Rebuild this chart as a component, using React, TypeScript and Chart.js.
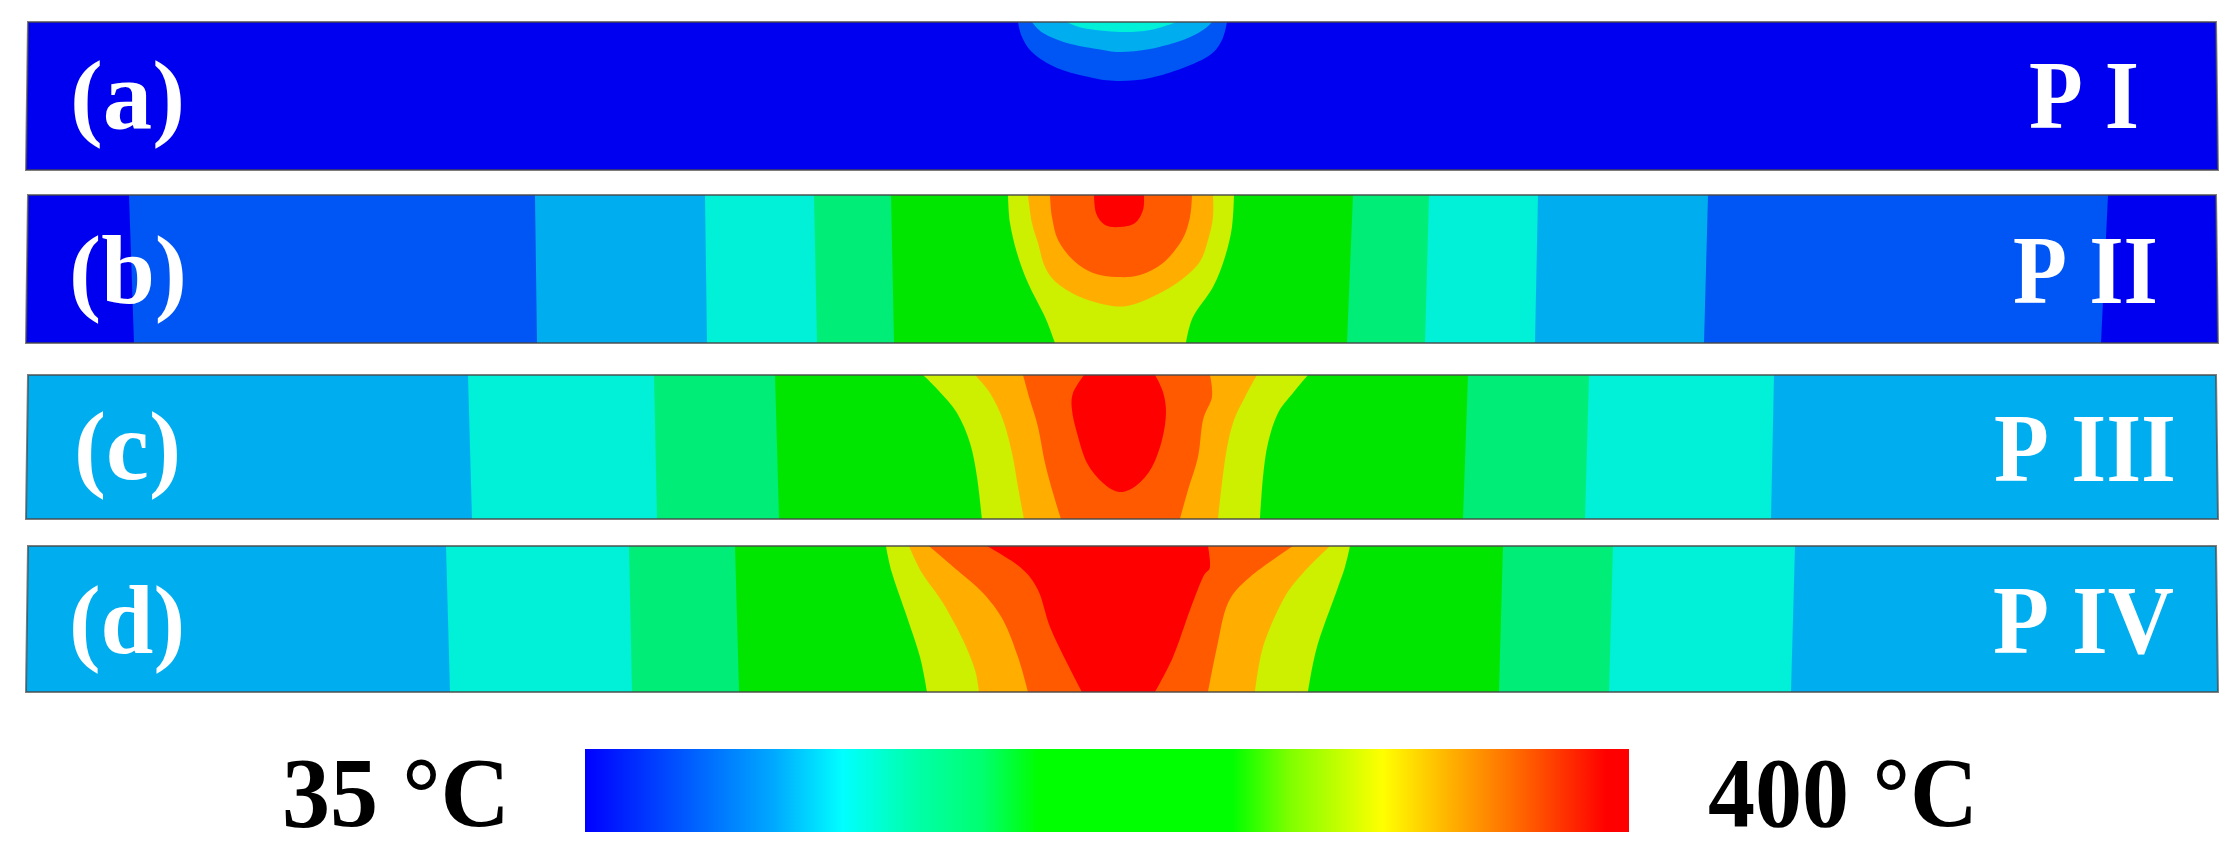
import React, { useEffect, useRef } from "react";
import { Chart, registerables } from "chart.js";

Chart.register(...registerables);

type P = number[];

const BLUE = "#0000f0";
const AZURE = "#0055f5";
const SKY = "#00aef0";
const CYAN = "#00f0d8";
const MINT = "#00ee78";
const GREEN = "#00e600";
const LIME = "#ccf000";
const AMBER = "#ffae00";
const VERMILION = "#ff5a00";
const RED = "#ff0000";

// Panel (a)
const frameA: P[] = [[28, 22], [2216, 22], [2218, 170], [26, 170]];
const aAzure: P[] = [[1018, 22], [1022, 37], [1033, 53], [1057, 68], [1093, 78], [1120, 81], [1150, 78], [1183, 68], [1210, 55], [1222, 40], [1227, 22]];
const aSky: P[] = [[1032, 22], [1043, 33], [1067, 43], [1097, 49], [1120, 52], [1150, 49], [1183, 40], [1203, 30], [1212, 22]];
const aCyan: P[] = [[1067, 22], [1083, 28], [1120, 32], [1150, 30], [1177, 22]];

// Panel (b)
const frameB: P[] = [[28, 195], [2216, 195], [2218, 343], [26, 343]];
const bAzure: P[] = [[129, 195], [134, 343], [2101, 343], [2108, 195]];
const bSky: P[] = [[535, 195], [537, 343], [1704, 343], [1708, 195]];
const bCyan: P[] = [[705, 195], [707, 343], [1535, 343], [1538, 195]];
const bMint: P[] = [[814, 195], [817, 343], [1425, 343], [1429, 195]];
const bGreen: P[] = [[891, 195], [894, 343], [1347, 343], [1353, 195]];
const bLime: P[] = [[1008, 195], [1010, 223], [1017, 253], [1028, 283], [1045, 317], [1055, 343], [1186, 343], [1193, 317], [1213, 287], [1225, 257], [1232, 227], [1234, 195]];
const bAmber: P[] = [[1028, 195], [1032, 223], [1038, 243], [1045, 267], [1057, 283], [1080, 297], [1107, 305], [1127, 306], [1150, 298], [1177, 283], [1199, 263], [1208, 240], [1213, 217], [1213, 195]];
const bVermilion: P[] = [[1050, 195], [1052, 217], [1058, 240], [1073, 260], [1093, 273], [1117, 277], [1140, 275], [1163, 263], [1182, 240], [1190, 217], [1192, 195]];
const bRed: P[] = [[1094, 195], [1096, 213], [1105, 225], [1120, 227], [1135, 223], [1143, 210], [1144, 195]];

// Panel (c)
const frameC: P[] = [[28, 375], [2216, 375], [2218, 519], [26, 519]];
const cCyan: P[] = [[468, 375], [472, 519], [1771, 519], [1774, 375]];
const cMint: P[] = [[654, 375], [657, 519], [1585, 519], [1589, 375]];
const cGreen: P[] = [[775, 375], [779, 519], [1463, 519], [1468, 375]];
const cLime: P[] = [[923, 375], [938, 390], [957, 413], [970, 443], [977, 477], [982, 519], [1260, 519], [1263, 477], [1268, 443], [1278, 413], [1293, 393], [1308, 375]];
const cAmber: P[] = [[975, 375], [990, 393], [1003, 420], [1012, 453], [1018, 487], [1024, 519], [1218, 519], [1225, 460], [1233, 423], [1245, 397], [1257, 375]];
const cVermilion: P[] = [[1023, 375], [1030, 400], [1038, 427], [1045, 463], [1053, 493], [1061, 519], [1180, 519], [1188, 490], [1198, 457], [1203, 420], [1212, 397], [1210, 375]];
const cRed: P[] = [[1084, 375], [1073, 393], [1072, 410], [1077, 433], [1087, 463], [1103, 483], [1120, 492], [1137, 485], [1152, 467], [1162, 440], [1166, 413], [1163, 392], [1155, 375]];

// Panel (d)
const frameD: P[] = [[28, 546], [2216, 546], [2218, 692], [26, 692]];
const dCyan: P[] = [[446, 546], [450, 692], [1791, 692], [1795, 546]];
const dMint: P[] = [[629, 546], [632, 692], [1609, 692], [1613, 546]];
const dGreen: P[] = [[735, 546], [739, 692], [1499, 692], [1503, 546]];
const dLime: P[] = [[886, 546], [892, 573], [907, 617], [920, 657], [927, 692], [1308, 692], [1317, 647], [1337, 590], [1345, 567], [1350, 546]];
const dAmber: P[] = [[909, 546], [922, 573], [943, 603], [963, 640], [975, 670], [979, 692], [1255, 692], [1263, 647], [1283, 600], [1303, 573], [1330, 546]];
const dVermilion: P[] = [[929, 546], [957, 570], [983, 593], [1003, 620], [1018, 657], [1028, 692], [1208, 692], [1217, 647], [1228, 603], [1250, 577], [1293, 546]];
const dRed: P[] = [[987, 546], [1020, 567], [1038, 590], [1050, 627], [1067, 663], [1082, 692], [1155, 692], [1173, 657], [1190, 610], [1203, 577], [1210, 567], [1208, 546]];

// Colour bar
const barRect: P[] = [[585, 749], [1629, 749], [1629, 832], [585, 832]];
const barStopAt = [0, 0.07, 0.18, 0.247, 0.31, 0.38, 0.434, 0.62, 0.676, 0.72, 0.764, 0.83, 0.9, 0.978, 1];
const barStopColor = ["#0000ff", "#0040ff", "#00a8ff", "#00ffff", "#00ffb0", "#00ff70", "#00ff00", "#00ff00", "#80ff00", "#c0ff00", "#ffff00", "#ffb000", "#ff6000", "#ff0000", "#ff0000"];

// Texts
const labelTexts = ["(a)", "(b)", "(c)", "(d)", "P I", "P II", "P III", "P IV", "35 °C", "400 °C"];
const labelLeft = [70, 69, 74, 69, 2029, 2013, 1994, 1993, 282, 1708];
const labelWidth = [115, 118, 107, 116, 110, 145, 182, 181, 228, 270];
const labelBaseline = [128, 303, 479, 653, 128, 303, 481, 653, 826, 826];
const labelColor = ["#fff", "#fff", "#fff", "#fff", "#fff", "#fff", "#fff", "#fff", "#000", "#000"];
const labelSize = [98, 98, 98, 98, 98, 98, 98, 98, 100, 100];

const regions: { pts: P[]; color: string; floor: number; frame?: boolean; gradient?: boolean }[] = [
  { pts: frameA, color: BLUE, floor: 170, frame: true },
  { pts: aAzure, color: AZURE, floor: 170 },
  { pts: aSky, color: SKY, floor: 170 },
  { pts: aCyan, color: CYAN, floor: 170 },
  { pts: frameB, color: BLUE, floor: 343, frame: true },
  { pts: bAzure, color: AZURE, floor: 343 },
  { pts: bSky, color: SKY, floor: 343 },
  { pts: bCyan, color: CYAN, floor: 343 },
  { pts: bMint, color: MINT, floor: 343 },
  { pts: bGreen, color: GREEN, floor: 343 },
  { pts: bLime, color: LIME, floor: 343 },
  { pts: bAmber, color: AMBER, floor: 343 },
  { pts: bVermilion, color: VERMILION, floor: 343 },
  { pts: bRed, color: RED, floor: 343 },
  { pts: frameC, color: SKY, floor: 519, frame: true },
  { pts: cCyan, color: CYAN, floor: 519 },
  { pts: cMint, color: MINT, floor: 519 },
  { pts: cGreen, color: GREEN, floor: 519 },
  { pts: cLime, color: LIME, floor: 519 },
  { pts: cAmber, color: AMBER, floor: 519 },
  { pts: cVermilion, color: VERMILION, floor: 519 },
  { pts: cRed, color: RED, floor: 519 },
  { pts: frameD, color: SKY, floor: 692, frame: true },
  { pts: dCyan, color: CYAN, floor: 692 },
  { pts: dMint, color: MINT, floor: 692 },
  { pts: dGreen, color: GREEN, floor: 692 },
  { pts: dLime, color: LIME, floor: 692 },
  { pts: dAmber, color: AMBER, floor: 692 },
  { pts: dVermilion, color: VERMILION, floor: 692 },
  { pts: dRed, color: RED, floor: 692 },
  { pts: barRect, color: "#00ff00", floor: 832, gradient: true },
];

// Closed outline through the chart's own points. Points on the panel's top or
// bottom edge stay sharp corners, all others are joined by a smooth curve.
const tracePath = (ctx: CanvasRenderingContext2D, points: any[], floorPx: number) => {
  const topPx = points[0].y;
  const sharp = (p: any) => Math.abs(p.y - topPx) < 0.01 || Math.abs(p.y - floorPx) < 0.01;
  ctx.beginPath();
  ctx.moveTo(points[0].x, points[0].y);
  for (let i = 0; i < points.length - 1; i++) {
    const p1 = points[i];
    const p2 = points[i + 1];
    const p0 = points[i - 1] ?? p1;
    const p3 = points[i + 2] ?? p2;
    const c1x = sharp(p1) ? p1.x : p1.x + (p2.x - p0.x) / 6;
    const c1y = sharp(p1) ? p1.y : p1.y + (p2.y - p0.y) / 6;
    const c2x = sharp(p2) ? p2.x : p2.x - (p3.x - p1.x) / 6;
    const c2y = sharp(p2) ? p2.y : p2.y - (p3.y - p1.y) / 6;
    ctx.bezierCurveTo(c1x, c1y, c2x, c2y, p2.x, p2.y);
  }
  ctx.closePath();
};

const regionPlugin = {
  id: "regionFill",
  beforeDatasetDraw(chart: any, args: any) {
    const ctx: CanvasRenderingContext2D = chart.ctx;
    const ds = chart.data.datasets[args.index];
    const points = args.meta.data;
    ctx.save();
    if (ds.gradientBar) {
      const g = ctx.createLinearGradient(points[0].x, 0, points[1].x, 0);
      barStopAt.forEach((at, i) => g.addColorStop(at, barStopColor[i]));
      ctx.fillStyle = g;
    } else {
      ctx.fillStyle = ds.regionColor;
    }
    tracePath(ctx, points, chart.scales.y.getPixelForValue(ds.floor));
    ctx.fill();
    ctx.restore();
  },
  afterDatasetsDraw(chart: any) {
    const ctx: CanvasRenderingContext2D = chart.ctx;
    // panel outlines sit on top of the contour regions
    chart.data.datasets.forEach((ds: any, i: number) => {
      if (!ds.isFrame) return;
      const points = chart.getDatasetMeta(i).data;
      ctx.save();
      ctx.strokeStyle = "rgba(70,70,70,0.7)";
      ctx.lineWidth = 2;
      tracePath(ctx, points, chart.scales.y.getPixelForValue(ds.floor));
      ctx.stroke();
      ctx.restore();
    });
    labelTexts.forEach((text, i) => {
      ctx.save();
      ctx.font = `bold ${labelSize[i]}px "Liberation Serif"`;
      ctx.fillStyle = labelColor[i];
      ctx.textAlign = "left";
      ctx.textBaseline = "alphabetic";
      const w = ctx.measureText(text).width;
      const x = chart.scales.x.getPixelForValue(labelLeft[i]);
      const y = chart.scales.y.getPixelForValue(labelBaseline[i]);
      ctx.translate(x, y);
      ctx.scale(labelWidth[i] / w, 1);
      ctx.fillText(text, 0, 0);
      ctx.restore();
    });
  },
};

export default function App() {
  const ref = useRef<HTMLCanvasElement>(null);
  useEffect(() => {
    const chart = new Chart(ref.current as HTMLCanvasElement, {
      type: "scatter",
      data: {
        datasets: regions.map((r, i) => ({
          data: r.pts.map(([x, y]) => ({ x, y })),
          showLine: true,
          borderWidth: 0,
          borderColor: "transparent",
          pointRadius: 0,
          fill: false,
          order: regions.length - i,
          regionColor: r.color,
          floor: r.floor,
          isFrame: !!r.frame,
          gradientBar: !!r.gradient,
        })) as any,
      },
      options: {
        animation: false,
        responsive: false,
        maintainAspectRatio: false,
        layout: { padding: 0 },
        events: [],
        plugins: { legend: { display: false }, tooltip: { enabled: false }, title: { display: false } },
        scales: {
          x: { type: "linear", min: 0, max: 2239, display: false },
          y: { type: "linear", min: 0, max: 856, reverse: true, display: false },
        },
      },
      plugins: [regionPlugin as any],
    });
    return () => chart.destroy();
  }, []);
  return (
    <div style={{ position: "absolute", left: 0, top: 0, width: 2239, height: 856, background: "#fff", overflow: "hidden" }}>
      <canvas ref={ref} width={2239} height={856} style={{ display: "block" }} />
    </div>
  );
}
